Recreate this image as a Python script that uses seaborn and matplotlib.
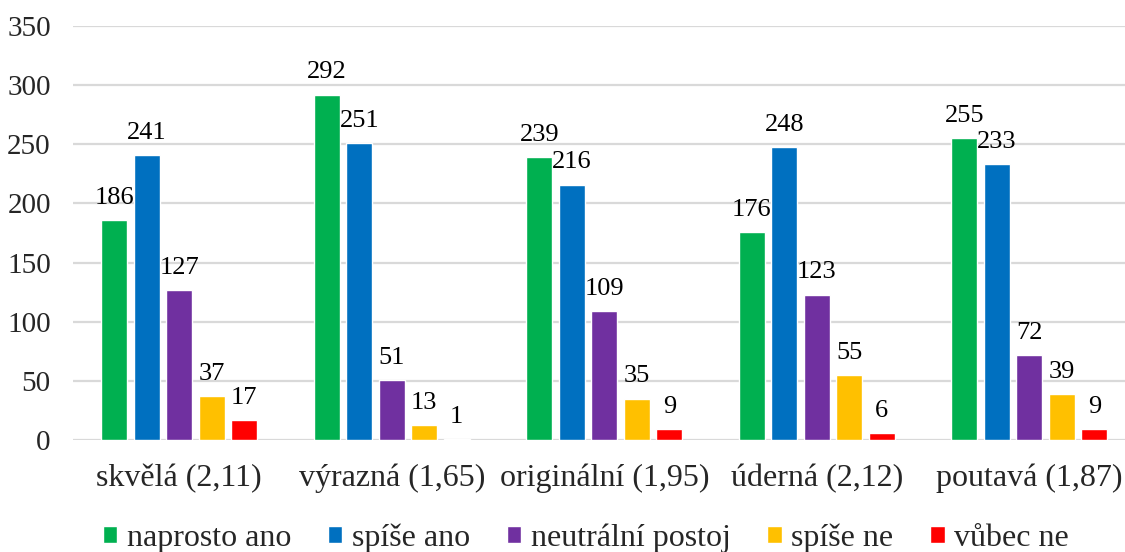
import matplotlib
matplotlib.use("Agg")
import matplotlib.pyplot as plt
import seaborn as sns
import pandas as pd

categories = ["skvělá (2,11)", "výrazná (1,65)", "originální (1,95)", "úderná (2,12)", "poutavá (1,87)"]
series = ["naprosto ano", "spíše ano", "neutrální postoj", "spíše ne", "vůbec ne"]
naprosto_ano = [186, 292, 239, 176, 255]
spise_ano = [241, 251, 216, 248, 233]
neutralni = [127, 51, 109, 123, 72]
spise_ne = [37, 13, 35, 55, 39]
vubec_ne = [17, 1, 9, 6, 9]
colors = ["#00B050", "#0070C0", "#7030A0", "#FFC000", "#FF0000"]
y_ticks = [0, 50, 100, 150, 200, 250, 300, 350]

values = [naprosto_ano, spise_ano, neutralni, spise_ne, vubec_ne]
rows = []
for name, vals in zip(series, values):
    for cat, v in zip(categories, vals):
        rows.append({"kategorie": cat, "odpověď": name, "počet": v})
df = pd.DataFrame(rows)

sns.set_theme(style="white")
serif = ["Liberation Serif", "DejaVu Serif"]
plt.rcParams["font.family"] = serif

fig = plt.figure(figsize=(11.25, 5.52), dpi=100)
ax = fig.add_axes([73 / 1125, 112 / 552, 1052 / 1125, 414 / 552])

sns.barplot(data=df, x="kategorie", y="počet", hue="odpověď",
            order=categories, hue_order=series, palette=colors,
            width=0.765, gap=0.2, saturation=1, ax=ax, legend=True)

for cont in ax.containers:
    ax.bar_label(cont, fontsize=19, padding=8, color="#000000", family=serif)

ax.set_ylim(0, 350)
ax.set_xlim(-0.5, -0.5 + 1052 / 212.5)
ax.set_yticks(y_ticks)
ax.yaxis.grid(True, color="#D9D9D9", linewidth=1.6)
ax.set_axisbelow(True)
for s in ax.spines.values():
    s.set_visible(False)
ax.tick_params(axis="y", length=0, pad=16, labelsize=21)
ax.tick_params(axis="x", length=0, pad=17, labelsize=23)
ax.set_xlabel("")
ax.set_ylabel("")

ax.legend(loc="center", bbox_to_anchor=(586 / 1125, 14 / 552),
          bbox_transform=fig.transFigure, ncol=5,
          frameon=False, prop={"family": serif, "size": 23},
          handlelength=0.45, handleheight=0.45,
          handletextpad=0.3, columnspacing=1.15, borderaxespad=0, borderpad=0)

fig.savefig("out.png", dpi=100)
